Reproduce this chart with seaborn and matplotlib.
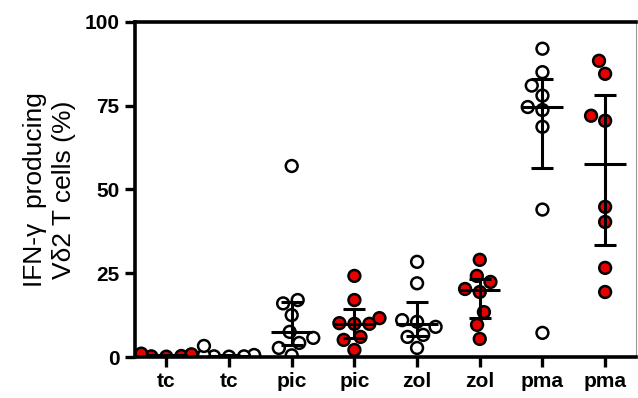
import matplotlib
matplotlib.use("Agg")
import matplotlib.pyplot as plt
import numpy as np
import pandas as pd
import seaborn as sns

# values (% IFN-g producing Vd2 T cells)
tc_white = [0.2, 0.4, 0.1, 0.6, 0.3, 0.5, 0.2, 3.3]
tc_red = [0.2, 0.5, 0.3, 0.8, 0.6, 0.4, 0.1, 1.0]
pic_white = [0.5, 2.7, 4.2, 5.7, 7.5, 12.5, 16.0, 17.0, 57.0]
pic_red = [2.1, 5.1, 6.0, 9.9, 9.9, 10.1, 11.6, 17.0, 24.2]
zol_white = [2.7, 6.0, 6.6, 9.0, 10.5, 11.0, 22.0, 28.4]
zol_red = [5.4, 9.6, 13.4, 19.4, 20.3, 22.4, 24.2, 29.0]
pma_white = [7.2, 44.0, 68.7, 73.7, 74.6, 78.0, 81.0, 85.0, 92.0]
pma_red = [19.4, 26.6, 40.3, 44.8, 70.5, 72.0, 84.5, 88.4]

groups = [tc_red, tc_white, pic_white, pic_red, zol_white, zol_red, pma_white, pma_red]
fills = ["red", "white", "white", "red", "white", "red", "white", "red"]
tick_labels = ["tc", "tc", "pic", "pic", "zol", "zol", "pma", "pma"]

rows = []
for i, (vals, fill) in enumerate(zip(groups, fills)):
    for v in vals:
        rows.append({"pos": i, "value": v, "fill": fill})
data = pd.DataFrame(rows)


def quartiles(vals):
    # median of lower / upper halves, median excluded
    x = np.sort(vals)
    n = len(x)
    return np.median(x[: n // 2]), np.median(x), np.median(x[(n + 1) // 2:])


sns.set_style("ticks")
plt.rcParams["font.family"] = ["Liberation Sans", "DejaVu Sans"]
plt.rcParams["text.color"] = "black"
plt.rcParams["axes.labelcolor"] = "black"
plt.rcParams["xtick.color"] = "black"
plt.rcParams["ytick.color"] = "black"

fig = plt.figure(figsize=(6.38, 3.98), dpi=100)
ax = fig.add_axes([0.2116, 0.103, 0.786, 0.842])

sns.swarmplot(data=data, x="pos", y="value", hue="fill", order=list(range(8)),
              palette={"white": "white", "red": "#e60000"}, size=8.5,
              edgecolor="black", linewidth=1.8, legend=False, ax=ax, zorder=2)

for i, vals in enumerate(groups):
    q1, med, q3 = quartiles(vals)
    ax.errorbar(i, med, yerr=[[med - q1], [q3 - med]], fmt="none", ecolor="black",
                elinewidth=2.2, capsize=8, capthick=2.2, zorder=3)
    ax.hlines(med, i - 0.33, i + 0.33, color="black", lw=2.2, zorder=3)

ax.set_xlim(-0.5, 7.5)
ax.set_ylim(0, 100)
ax.set_yticks([0, 25, 50, 75, 100])
ax.set_xticks(range(8))
ax.set_xticklabels(tick_labels, fontsize=15, fontweight="bold")
ax.set_yticklabels(["0", "25", "50", "75", "100"], fontsize=15, fontweight="bold")
ax.set_xlabel("")
ax.set_ylabel("IFN-γ  producing\nVδ2 T cells (%)", fontsize=19, labelpad=6,
              linespacing=1.3)
ax.tick_params(axis="both", width=2.4, length=7, color="black", pad=4)
for side in ["left", "bottom", "top"]:
    ax.spines[side].set_linewidth(2.6)
    ax.spines[side].set_color("black")
ax.spines["right"].set_linewidth(0.8)
ax.spines["right"].set_color("#999999")

fig.savefig("out.png", dpi=100)
